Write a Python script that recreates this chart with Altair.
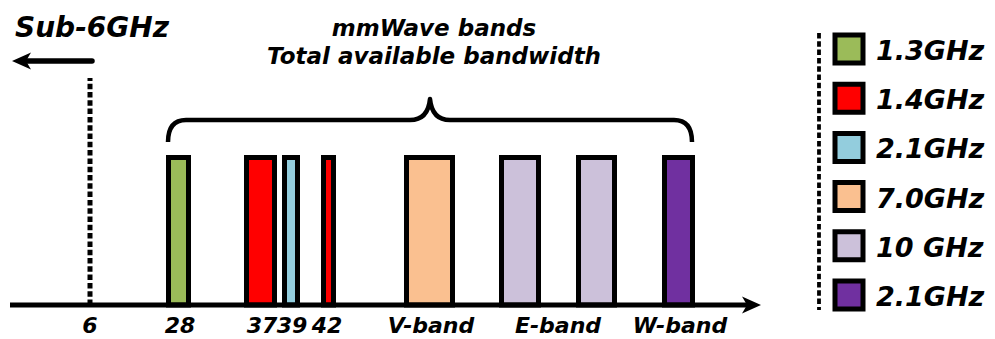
import altair as alt
import pandas as pd

# ---- spectrum bars (diagram units: x along the frequency axis, y above the axis line)
bar_start = [168.5, 246.5, 284.5, 323.5, 406.5, 501.5, 578.5, 664.5]
bar_end = [188.5, 274.5, 297.5, 333.5, 452.5, 538.5, 614.5, 692.5]
bar_top = [147.5] * 8
bar_key = ["1.3GHz", "1.4GHz", "2.1GHz (39)", "1.4GHz", "7.0GHz", "10 GHz", "10 GHz", "2.1GHz (W)"]

# ---- legend entries
legend_key = ["1.3GHz", "1.4GHz", "2.1GHz (39)", "7.0GHz", "10 GHz", "2.1GHz (W)"]
legend_text = ["1.3GHz", "1.4GHz", "2.1GHz", "7.0GHz", "10 GHz", "2.1GHz"]
legend_color = ["#9BBB59", "#FF0000", "#93CDDD", "#FAC090", "#CCC1DA", "#7030A0"]
legend_y = [256, 206.8, 157.6, 108.4, 59.2, 10]

# ---- tick labels under the axis
tick_text = ["6", "28", "37", "39", "42", "V-band", "E-band", "W-band"]
tick_x = [90, 180, 262, 292, 327, 431, 558, 680]

# ---- headings
heading_text = ["Sub-6GHz", "mmWave bands", "Total available bandwidth"]
heading_x = [15, 434, 434]
heading_y = [268, 269, 241]
heading_size = [28, 23, 23]

FONT = "DejaVu Sans"
W, H = 995, 339
xs = alt.Scale(domain=[0, 995], range=[0, W], nice=False, zero=False)
ys = alt.Scale(domain=[-34, 305], range=[H, 0], nice=False, zero=False)
X = lambda f: alt.X(f, type="quantitative", scale=xs, axis=None)
Y = lambda f: alt.Y(f, type="quantitative", scale=ys, axis=None)

color_scale = alt.Scale(domain=legend_key, range=legend_color)

bars_df = pd.DataFrame({"x0": bar_start, "x1": bar_end, "top": bar_top, "key": bar_key, "base": 0})
bars = alt.Chart(bars_df).mark_rect(stroke="black", strokeWidth=5).encode(
    x=X("x0"), x2="x1", y=Y("base"), y2="top",
    fill=alt.Fill("key:N", scale=color_scale, legend=None),
)

# frequency axis line with arrow head
axis_df = pd.DataFrame({"x0": [10], "x1": [750], "y": [0]})
axis_line = alt.Chart(axis_df).mark_rule(color="black", strokeWidth=5).encode(
    x=X("x0"), x2="x1", y=Y("y"))
arrow_right = "M 0 0 L -19 -8.5 L -14 0 L -19 8.5 Z"
arrow_left = "M 0 0 L 19 -8.5 L 14 0 L 19 8.5 Z"
head_df = pd.DataFrame({"x": [761, 12], "y": [0, 244], "shape": [arrow_right, arrow_left]})
heads = alt.Chart(head_df).mark_point(filled=True, opacity=1, size=4, color="black").encode(
    x=X("x"), y=Y("y"), shape=alt.Shape("shape:N", scale=None, legend=None))

# sub-6GHz marker: dashed divider and leftward arrow
sub6_df = pd.DataFrame({"x": [90], "y0": [0], "y1": [227]})
sub6_line = alt.Chart(sub6_df).mark_rule(
    color="black", strokeWidth=5, strokeDash=[5.5, 2.8]).encode(
    x=X("x"), y=Y("y0"), y2="y1")
left_df = pd.DataFrame({"x0": [92], "x1": [24], "y": [244]})
left_line = alt.Chart(left_df).mark_rule(color="black", strokeWidth=5.5, strokeCap="round").encode(
    x=X("x0"), x2="x1", y=Y("y"))

# curly brace spanning the mmWave bands
brace_path = ("M -262 22 Q -262 0 -244 0 L -20 0 Q -2 0 0 -21 "
              "Q 2 0 20 0 L 244 0 Q 262 0 262 22")
brace_df = pd.DataFrame({"x": [430], "y": [185], "shape": [brace_path]})
brace = alt.Chart(brace_df).mark_point(
    filled=False, opacity=1, size=4, stroke="black", strokeWidth=4.5, strokeJoin="round").encode(
    x=X("x"), y=Y("y"), shape=alt.Shape("shape:N", scale=None, legend=None))

# headings
head_txt_df = pd.DataFrame({"x": heading_x, "y": heading_y, "t": heading_text,
                            "s": heading_size, "a": ["left", "center", "center"]})
sub6_txt = alt.Chart(head_txt_df.iloc[[0]]).mark_text(
    font=FONT, fontStyle="italic", fontWeight="bold", fontSize=heading_size[0], align="left",
    baseline="alphabetic", color="black").encode(x=X("x"), y=Y("y"), text="t:N")
mm_txt = alt.Chart(head_txt_df.iloc[[1, 2]]).mark_text(
    font=FONT, fontStyle="italic", fontWeight="bold", fontSize=heading_size[1], align="center",
    baseline="alphabetic", color="black").encode(x=X("x"), y=Y("y"), text="t:N")

# tick labels
ticks_df = pd.DataFrame({"x": tick_x, "t": tick_text, "y": -28})
ticks = alt.Chart(ticks_df).mark_text(
    font=FONT, fontStyle="italic", fontWeight="bold", fontSize=22, align="center",
    baseline="alphabetic", color="black").encode(x=X("x"), y=Y("y"), text="t:N")

# legend: dashed separator, colour swatches and labels
leg_df = pd.DataFrame({"key": legend_key, "label": legend_text, "y": legend_y,
                       "sx": 849, "tx": 876})
leg_df["ty"] = leg_df["y"] - 11
leg_line_df = pd.DataFrame({"x": [819], "y0": [272], "y1": [-5]})
leg_line = alt.Chart(leg_line_df).mark_rule(
    color="black", strokeWidth=3.8, strokeDash=[5.5, 2.8]).encode(
    x=X("x"), y=Y("y0"), y2="y1")
swatches = alt.Chart(leg_df).mark_point(
    shape="square", filled=True, opacity=1, size=784, stroke="black", strokeWidth=5).encode(
    x=X("sx"), y=Y("y"), fill=alt.Fill("key:N", scale=color_scale, legend=None))
leg_txt = alt.Chart(leg_df).mark_text(
    font=FONT, fontStyle="italic", fontWeight="bold", fontSize=27, align="left",
    baseline="alphabetic", color="black").encode(x=X("tx"), y=Y("ty"), text="label:N")

chart = alt.layer(
    bars, axis_line, heads, sub6_line, left_line, brace, sub6_txt, mm_txt, ticks,
    leg_line, swatches, leg_txt,
).properties(
    width=W, height=H, padding=0, autosize=alt.AutoSizeParams(type="none"),
    background="white",
).configure_view(stroke=None)

chart.save("out.html", embed_options={"renderer": "svg", "actions": False})
